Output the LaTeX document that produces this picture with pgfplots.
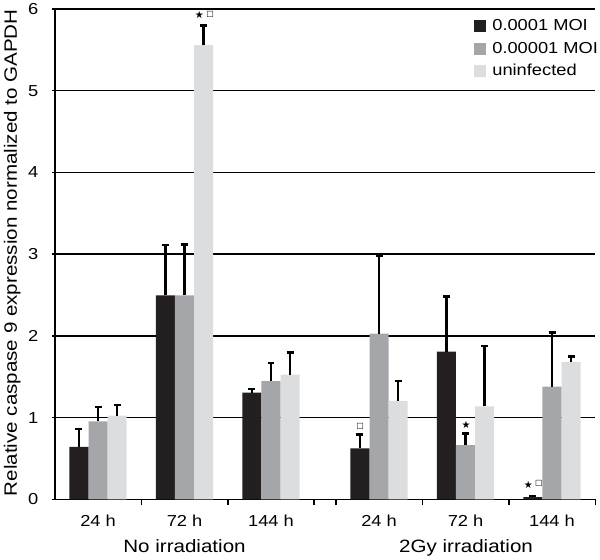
\documentclass[border=0pt]{standalone}
\usepackage{pgfplots}
\pgfplotsset{compat=1.18}
\usepackage{pgfplotstable}
\usepackage{fontspec}
\setmainfont{Liberation Sans}[FakeStretch=1.15]
\newfontfamily\dejavu{DejaVu Sans}
\definecolor{cA}{HTML}{231F20}
\definecolor{cB}{HTML}{A5A6A9}
\definecolor{cC}{HTML}{DCDDDF}

% x positions already include the bar offset within each group
\pgfplotstableread{
x y e
-0.221 0.644 0.216
0.779 2.496 0.614
1.779 1.308 0.042
3.029 0.624 0.171
4.029 1.81 0.67
5.029 0.03 0.012
}\tblA
\pgfplotstableread{
x y e
0 0.954 0.176
1 2.496 0.624
2 1.447 0.220
3.25 2.03 0.955
4.25 0.665 0.145
5.25 1.38 0.66
}\tblB
\pgfplotstableread{
x y e
0.221 1.027 0.129
1.221 5.557 0.243
2.221 1.528 0.268
3.471 1.205 0.245
4.471 1.14 0.74
5.471 1.68 0.07
}\tblC

\newcommand{\st}{{\dejavu\fontsize{10}{10}\selectfont ★}}
\newcommand{\sq}{{\dejavu\fontsize{8}{8}\selectfont □}}

\begin{document}
\begin{tikzpicture}
\begin{axis}[name=ax,
  scale only axis, width=542bp, height=492bp,
  xmin=-0.5, xmax=5.75, ymin=0, ymax=6,
  clip=false,
  axis lines*=left,
  axis line style={black, line width=1.6bp},
  xtick={0.5,1.5,2.5,2.75,3.75,4.75,5.75}, xticklabels={},
  extra x ticks={0,1,2,3.25,4.25,5.25},
  extra x tick labels={24 h,72 h,144 h,24 h,72 h,144 h},
  extra x tick style={major tick length=0pt},
  xtick align=outside,
  ytick={0,1,2,3,4,5,6}, ytick align=center,
  major tick length=6bp,
  tick style={black, line width=1.5bp},
  ymajorgrids, major grid style={black, line width=1.5bp},
  tick label style={font=\fontsize{16}{16}\selectfont},
  /pgf/number format/assume math mode=true,
  xticklabel style={anchor=base, yshift=-27bp},
  yticklabel style={xshift=-10bp},
  legend style={at={(0.776,0.984)}, anchor=north west, draw=none, fill=none,
    font=\fontsize{16}{16}\selectfont, row sep=3.5bp, inner sep=0pt,
    nodes={text height=12bp, text depth=3bp, inner sep=2bp}},
  legend cell align=left,
  legend image code/.code={\fill[#1] (0bp,-6bp) rectangle (12bp,6bp); \path (16bp,0bp);},
  error bars/y dir=plus, error bars/y explicit,
  error bars/error bar style={draw=black, line width=2.5bp},
  error bars/error mark options={draw=black, line width=2.5bp, mark size=3.5bp, rotate=90},
]
\addplot[ybar, bar width=0.221, bar shift=0pt, fill=cA, draw=none]
  table[x=x, y=y, y error=e]{\tblA};
\addplot[ybar, bar width=0.221, bar shift=0pt, fill=cB, draw=none]
  table[x=x, y=y, y error=e]{\tblB};
\addplot[ybar, bar width=0.221, bar shift=0pt, fill=cC, draw=none]
  table[x=x, y=y, y error=e]{\tblC};
\legend{0.0001 MOI, 0.00001 MOI, uninfected}
\node at (axis cs:1.170,5.93) {\st};
\node at (axis cs:1.297,5.93) {\sq};
\node at (axis cs:3.030,0.894) {\sq};
\node at (axis cs:4.256,0.915) {\st};
\node at (axis cs:4.976,0.18) {\st};
\node at (axis cs:5.098,0.195) {\sq};
\node[anchor=base, font=\fontsize{18}{18}\selectfont] at ([yshift=-53bp]axis cs:1,0) {No irradiation};
\node[anchor=base, font=\fontsize{18}{18}\selectfont] at ([yshift=-53bp]axis cs:4.256,0) {2Gy irradiation};
\end{axis}
\node[rotate=90, anchor=base, font=\fontsize{18}{18}\selectfont] at ([xshift=-38bp, yshift=1.5bp]ax.west) {Relative caspase 9 expression normalized to GAPDH};
\path ([shift={(-55bp,-58bp)}]ax.south west) rectangle ([shift={(3bp,8bp)}]ax.north east);
\end{tikzpicture}
\end{document}
